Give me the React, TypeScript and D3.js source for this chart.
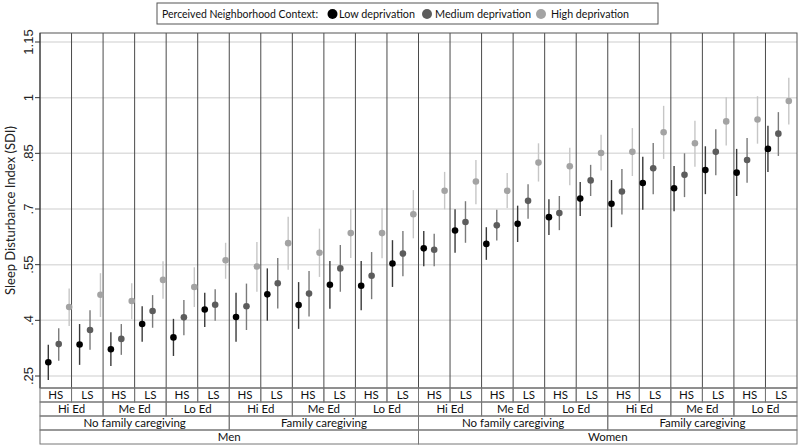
import React from "react";
import * as d3 from "d3";

const seriesNames = ["Low deprivation", "Medium deprivation", "High deprivation"];
const stressLabels = ["HS", "LS"];
const eduLabels = ["Hi Ed", "Me Ed", "Lo Ed"];
const careLabels = ["No family caregiving", "Family caregiving"];
const sexLabels = ["Men", "Women"];
const yTicks = [0.25, 0.4, 0.55, 0.7, 0.85, 1, 1.15];
const yTickLabels = [".25", ".4", ".55", ".7", ".85", "1", "1.15"];

const lowMean = [0.287,0.335,0.322,0.390,0.354,0.429, 0.409,0.470,0.441,0.496,0.493,0.553, 0.594,0.642,0.606,0.660,0.678,0.728, 0.714,0.770,0.756,0.805,0.798,0.862];
const lowLo = [0.239,0.280,0.277,0.342,0.304,0.382, 0.342,0.399,0.377,0.431,0.427,0.490, 0.546,0.582,0.563,0.611,0.630,0.681, 0.651,0.698,0.694,0.740,0.735,0.800];
const lowHi = [0.334,0.390,0.368,0.438,0.404,0.474, 0.474,0.540,0.503,0.560,0.560,0.616, 0.641,0.699,0.651,0.709,0.726,0.773, 0.778,0.841,0.816,0.869,0.862,0.924];

const medMean = [0.336,0.374,0.350,0.425,0.408,0.442, 0.438,0.500,0.472,0.540,0.520,0.580, 0.590,0.665,0.656,0.722,0.689,0.777, 0.747,0.810,0.792,0.854,0.832,0.903];
const medLo = [0.291,0.321,0.307,0.380,0.360,0.399, 0.374,0.432,0.410,0.477,0.457,0.519, 0.546,0.609,0.615,0.674,0.643,0.735, 0.685,0.740,0.732,0.791,0.771,0.843];
const medHi = [0.379,0.427,0.390,0.468,0.455,0.484, 0.499,0.568,0.533,0.603,0.584,0.641, 0.633,0.721,0.698,0.767,0.735,0.819, 0.808,0.878,0.850,0.915,0.891,0.961];

const highMean = [0.436,0.469,0.452,0.509,0.490,0.562, 0.545,0.608,0.582,0.635,0.635,0.686, 0.749,0.774,0.749,0.825,0.815,0.851, 0.854,0.907,0.877,0.936,0.941,0.991];
const highLo = [0.385,0.409,0.403,0.458,0.436,0.512, 0.477,0.536,0.517,0.568,0.567,0.621, 0.699,0.713,0.703,0.774,0.764,0.804, 0.789,0.835,0.814,0.871,0.876,0.928];
const highHi = [0.486,0.527,0.500,0.559,0.543,0.609, 0.611,0.679,0.647,0.700,0.702,0.751, 0.800,0.832,0.797,0.877,0.865,0.900, 0.918,0.978,0.938,1.001,1.004,1.054];

const W = 800, H = 446;
const plotL = 40, plotR = 797, plotT = 33, plotB = 388;
const rowH = 14;

const series = [
  { name: seriesNames[0], mean: lowMean, lo: lowLo, hi: lowHi, fill: "#000000", ci: "#3a3a3a" },
  { name: seriesNames[1], mean: medMean, lo: medLo, hi: medHi, fill: "#5c5c5c", ci: "#7a7a7a" },
  { name: seriesNames[2], mean: highMean, lo: highLo, hi: highHi, fill: "#a3a3a3", ci: "#c6c6c6" },
];

const labelFont = "Lato, 'Open Sans', sans-serif";

export default function App() {
  const nGroups = lowMean.length;
  const y = d3.scaleLinear().domain([0.25, 1.15]).range([376, 42]);
  const panel = d3.scaleLinear().domain([0, nGroups]).range([plotL, plotR]);
  const px = d3.scaleLinear().domain([0, nGroups * 3 - 1]).range([48.3, 788.8]);

  const rows = [
    { y0: plotB, span: 1, labels: d3.range(nGroups).map((i) => stressLabels[i % 2]) },
    { y0: plotB + rowH, span: 2, labels: d3.range(nGroups / 2).map((i) => eduLabels[i % 3]) },
    { y0: plotB + rowH * 2, span: 6, labels: d3.range(nGroups / 6).map((i) => careLabels[i % 2]) },
    { y0: plotB + rowH * 3, span: 12, labels: d3.range(nGroups / 12).map((i) => sexLabels[i % 2]) },
  ];

  const legendItems = [
    { cx: 332.5, tx: 339, len: 76 },
    { cx: 427, tx: 435, len: 96 },
    { cx: 541, tx: 551, len: 78 },
  ];

  return (
    <div style={{ position: "absolute", left: 0, top: 0 }}>
      <svg width={W} height={H} style={{ display: "block", background: "#fff" }}>
        <rect x={0} y={0} width={W} height={H} fill="#fff" />
        {yTicks.map((t, i) => (
          <line key={"g" + i} x1={plotL} x2={plotR} y1={y(t)} y2={y(t)} stroke="#dedede" strokeWidth={1.5} />
        ))}
        {d3.range(1, nGroups).map((i) => (
          <line key={"p" + i} x1={panel(i)} x2={panel(i)} y1={plotT} y2={plotB} stroke="#4a4a4a" strokeWidth={1} />
        ))}
        <rect x={plotL} y={plotT} width={plotR - plotL} height={plotB - plotT} fill="none" stroke="#555" strokeWidth={1} />
        {series.map((s, si) => (
          <g key={"s" + si}>
            {s.mean.map((m, g) => {
              const cx = px(g * 3 + si);
              return (
                <g key={g}>
                  <line x1={cx} x2={cx} y1={y(s.lo[g])} y2={y(s.hi[g])} stroke={s.ci} strokeWidth={1.4} />
                  <circle cx={cx} cy={y(m)} r={3.3} fill={s.fill} />
                </g>
              );
            })}
          </g>
        ))}
        <line x1={plotL} x2={plotL} y1={plotT} y2={plotB} stroke="#333" strokeWidth={1} />
        {yTicks.map((t, i) => (
          <g key={"t" + i}>
            <line x1={plotL - 5} x2={plotL} y1={y(t)} y2={y(t)} stroke="#333" strokeWidth={1} />
            <text
              transform={`translate(${plotL - 7},${y(t)}) rotate(-90)`}
              textAnchor="middle"
              fontFamily="'Liberation Sans', Arial, sans-serif"
              fontSize={13}
              fill="#222"
            >
              {yTickLabels[i]}
            </text>
          </g>
        ))}
        <text
          transform={`translate(15,${(plotT + plotB) / 2}) rotate(-90)`}
          textAnchor="middle"
          fontFamily={labelFont}
          fontSize={13}
          fill="#222"
        >
          Sleep Disturbance Index (SDI)
        </text>
        {rows.map((r, ri) => (
          <g key={"r" + ri}>
            {r.labels.map((lab, k) => {
              const x0 = panel(k * r.span);
              const x1 = panel((k + 1) * r.span);
              return (
                <g key={k}>
                  <rect x={x0} y={r.y0} width={x1 - x0} height={rowH} fill="none" stroke="#777" strokeWidth={1} />
                  <text x={(x0 + x1) / 2} y={r.y0 + rowH / 2 + 4.2} textAnchor="middle" fontFamily={labelFont} fontSize={11.5} fill="#111">
                    {lab}
                  </text>
                </g>
              );
            })}
          </g>
        ))}
        <rect x={157} y={3} width={501} height={21} fill="#fff" stroke="#555" strokeWidth={1} />
        <text x={162} y={18} fontFamily={labelFont} fontSize={12} fill="#111" textLength={156} lengthAdjust="spacingAndGlyphs">
          Perceived Neighborhood Context:
        </text>
        {series.map((s, si) => (
          <g key={"l" + si}>
            <circle cx={legendItems[si].cx} cy={14} r={5} fill={s.fill} />
            <text x={legendItems[si].tx} y={18} fontFamily={labelFont} fontSize={12} fill="#111" textLength={legendItems[si].len} lengthAdjust="spacingAndGlyphs">
              {s.name}
            </text>
          </g>
        ))}
      </svg>
    </div>
  );
}
